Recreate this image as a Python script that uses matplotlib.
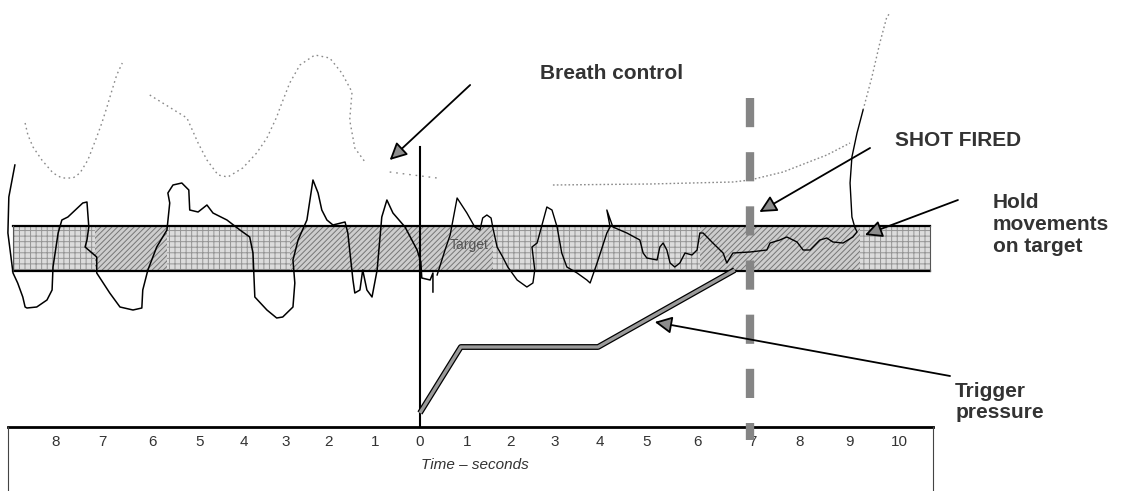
import matplotlib
matplotlib.use("Agg")
import matplotlib.pyplot as plt
from matplotlib.patches import Rectangle

plt.rcParams["font.family"] = ["Liberation Sans", "DejaVu Sans"]
plt.rcParams["hatch.linewidth"] = 0.7
plt.rcParams["lines.scale_dashes"] = False

# time axis (seconds, as printed on the hand-drawn scale) and vertical level (rows, top = 0)
tick_pos = [-7.83, -6.82, -5.74, -4.73, -3.78, -2.88, -1.96, -0.97, 0.0, 1.01,
            1.94, 2.90, 3.87, 4.88, 5.98, 7.14, 8.17, 9.23, 10.32]
tick_labels = ["8", "7", "6", "5", "4", "3", "2", "1", "0", "1",
               "2", "3", "4", "5", "6", "7", "8", "9", "10"]

# aim trace while holding (solid)
hold1_t = [-8.71, -8.84, -8.86, -8.75, -8.65, -8.54, -8.49, -8.45, -8.24, -8.02, -7.91,
           -7.89, -7.78, -7.70, -7.57, -7.25, -7.16, -7.12, -7.16, -7.20, -6.95, -6.95,
           -6.67, -6.45, -6.17, -5.98, -5.96, -5.85, -5.66, -5.44, -5.38, -5.42, -5.31,
           -5.12, -4.97, -4.95, -4.77, -4.58, -4.45, -4.15, -3.87, -3.66, -3.59, -3.55,
           -3.29, -3.08, -2.95, -2.73, -2.69, -2.73, -2.62, -2.43, -2.30, -2.19, -2.11,
           -2.00, -1.87, -1.61, -1.55, -1.44, -1.40, -1.29, -1.23, -1.14, -1.03, -0.92,
           -0.82, -0.71, -0.58, -0.32, -0.06, 0.02, 0.04, 0.22, 0.28, 0.28]
hold1_y = [165, 197, 233, 273, 283, 297, 307, 308, 307, 300, 290,
           267, 233, 220, 217, 203, 202, 227, 240, 247, 257, 273,
           293, 307, 310, 308, 290, 270, 247, 230, 203, 193, 185,
           183, 190, 210, 212, 205, 213, 220, 230, 237, 253, 297,
           310, 318, 317, 307, 283, 260, 240, 220, 180, 193, 210,
           220, 225, 222, 233, 280, 293, 290, 270, 290, 297, 270,
           217, 200, 213, 227, 250, 262, 278, 280, 273, 292]

hold2_t = [0.37, 0.54, 0.65, 0.80, 1.01, 1.18, 1.29, 1.35, 1.44, 1.53, 1.57, 1.66,
           1.78, 1.89, 2.09, 2.30, 2.43, 2.47, 2.41, 2.52, 2.73, 2.84, 2.95, 3.05,
           3.16, 3.38, 3.59, 3.66, 3.81, 4.02, 4.09, 4.02, 4.15, 4.45, 4.73, 4.80,
           4.88, 5.10, 5.16, 5.23, 5.31, 5.38, 5.48, 5.59, 5.70, 5.85, 5.96, 6.02,
           6.09, 6.30, 6.52, 6.60, 6.73, 7.10, 7.46, 7.53, 7.74, 7.89, 8.11, 8.24,
           8.39, 8.60, 8.75, 8.88, 9.10, 9.31, 9.40, 9.35, 9.29, 9.25, 9.29, 9.40, 9.53]
hold2_y = [275, 250, 235, 198, 213, 227, 230, 218, 215, 218, 228, 247,
           257, 267, 280, 287, 283, 270, 247, 243, 207, 210, 227, 253,
           267, 273, 280, 283, 263, 233, 227, 210, 227, 233, 240, 253,
           258, 260, 247, 243, 250, 263, 267, 263, 253, 255, 250, 233,
           233, 243, 253, 263, 253, 252, 250, 243, 240, 237, 242, 250,
           250, 240, 238, 242, 243, 237, 232, 227, 217, 183, 157, 133, 110]

# breathing trace (dotted pieces)
breath1_t = [-8.49, -8.43, -8.32, -8.13, -7.89, -7.70, -7.46, -7.31, -7.14, -6.95, -6.84,
             -6.73, -6.62, -6.52, -6.40]
breath1_y = [123, 135, 147, 160, 173, 178, 178, 173, 160, 137, 123,
             107, 90, 75, 63]
breath2_t = [-5.81, -5.01, -4.77, -4.58, -4.34, -4.13, -3.81, -3.51, -3.29, -3.08, -3.01,
             -2.80, -2.58, -2.26, -1.94, -1.68, -1.46, -1.51, -1.40, -1.18]
breath2_y = [95, 118, 143, 160, 175, 177, 168, 153, 138, 117, 108,
             83, 65, 55, 58, 73, 92, 120, 148, 162]
breath3_t = [-0.65, -0.15, 0.37]
breath3_y = [172, 175, 178]
breath4_t = [2.86, 4.95, 6.73, 7.10, 7.81, 8.75, 9.25]
breath4_y = [185, 184, 182, 180, 172, 155, 143]
breath5_t = [9.53, 9.72, 9.89, 10.04, 10.11]
breath5_y = [110, 77, 43, 17, 13]

# trigger pressure
trig_t = [0.0, 0.88, 3.83, 6.77]
trig_y = [413, 347, 347, 270]

# target band, shot and axis box
band_t = (-8.75, 10.97)
band_y = (226, 271)
diag_spans = [(-6.99, -5.44), (-2.80, 1.57), (6.02, 9.46)]
shot_t = 7.1
shot_y = (98, 440)
zero_y = (147, 427)
box_t = (-8.86, 11.03)
box_top = 427

INK = "#333333"

fig = plt.figure(figsize=(11.3, 4.91), dpi=100)
ax = fig.add_axes([0, 0, 1, 1])
ax.set_xlim(-9.03, 15.27)
ax.set_ylim(491, 0)
ax.axis("off")

# target band
ax.add_patch(Rectangle((band_t[0], band_y[0]), band_t[1] - band_t[0], band_y[1] - band_y[0],
                       facecolor="#dcdcdc", edgecolor="#959595", hatch="+++", lw=0, zorder=1))
for a, b in diag_spans:
    ax.add_patch(Rectangle((a, band_y[0]), b - a, band_y[1] - band_y[0],
                           facecolor="#cdcdcd", edgecolor="#767676", hatch="//////", lw=0, zorder=1))
ax.plot(band_t, [band_y[0]] * 2, color="black", lw=1.6, zorder=2)
ax.plot(band_t, [band_y[1]] * 2, color="black", lw=1.6, zorder=2)
ax.plot([band_t[0]] * 2, band_y, color="#555555", lw=0.8, zorder=2)
ax.plot([band_t[1]] * 2, band_y, color="#555555", lw=0.8, zorder=2)
ax.text(1.05, 245, "Target", fontsize=10, color="#555555", ha="center", va="center", zorder=3)

# traces
dots = dict(color="#8a8a8a", lw=1.0, zorder=3)
ax.plot(breath1_t, breath1_y, ls=(0, (1.2, 2.4)), **dots)
ax.plot(breath2_t, breath2_y, ls=(0, (1.2, 2.4)), **dots)
ax.plot(breath3_t, breath3_y, ls=(0, (1.2, 3.5)), **dots)
ax.plot(breath4_t, breath4_y, ls=(0, (1.2, 1.6)), **dots)
ax.plot(breath5_t, breath5_y, ls=(0, (1.2, 2.0)), **dots)
ax.plot(hold1_t, hold1_y, color="black", lw=1.1, zorder=4)
ax.plot(hold2_t, hold2_y, color="black", lw=1.0, zorder=4)

# trigger pressure line
ax.plot(trig_t, trig_y, color="black", lw=4.2, solid_capstyle="butt", zorder=5)
ax.plot(trig_t, trig_y, color="#9a9a9a", lw=2.4, solid_capstyle="butt", zorder=6)

# time zero and shot lines
ax.plot([0, 0], zero_y, color="black", lw=1.5, zorder=5)
ax.plot([shot_t, shot_t], shot_y, color="#858585", lw=6, ls=(0, (21, 18)), zorder=7)

# time axis box
ax.plot(box_t, [box_top] * 2, color="black", lw=2.0, zorder=5)
ax.plot([box_t[0]] * 2, [box_top, 491], color="#444444", lw=0.8, zorder=5)
ax.plot([box_t[1]] * 2, [box_top, 491], color="#444444", lw=0.8, zorder=5)
for t, lab in zip(tick_pos, tick_labels):
    ax.text(t, 442, lab, fontsize=11, color=INK, ha="center", va="center")
ax.text(1.18, 465, "Time \u2013 seconds", fontsize=11, style="italic", color=INK,
        ha="center", va="center")

# annotations
arrow = dict(arrowstyle="-|>", mutation_scale=26, fc="#8c8c8c", ec="black", lw=1.3,
             shrinkA=0, shrinkB=0)
ax.annotate("", xy=(-0.65, 160), xytext=(1.08, 85), arrowprops=arrow, zorder=8)
ax.annotate("", xy=(7.3, 212), xytext=(9.68, 148), arrowprops=arrow, zorder=8)
ax.annotate("", xy=(9.57, 235), xytext=(11.57, 200), arrowprops=arrow, zorder=8)
ax.annotate("", xy=(5.05, 322), xytext=(11.40, 376), arrowprops=arrow, zorder=8)

tk = dict(fontsize=15, fontweight="bold", color=INK, ha="left", va="center")
ax.text(2.58, 73, "Breath control", **tk)
ax.text(10.22, 140, "SHOT FIRED", **tk)
ax.text(12.32, 225, "Hold\nmovements\non target", linespacing=1.2, **tk)
ax.text(11.51, 402, "Trigger\npressure", linespacing=1.15, **tk)

fig.savefig("out.png", dpi=100)
